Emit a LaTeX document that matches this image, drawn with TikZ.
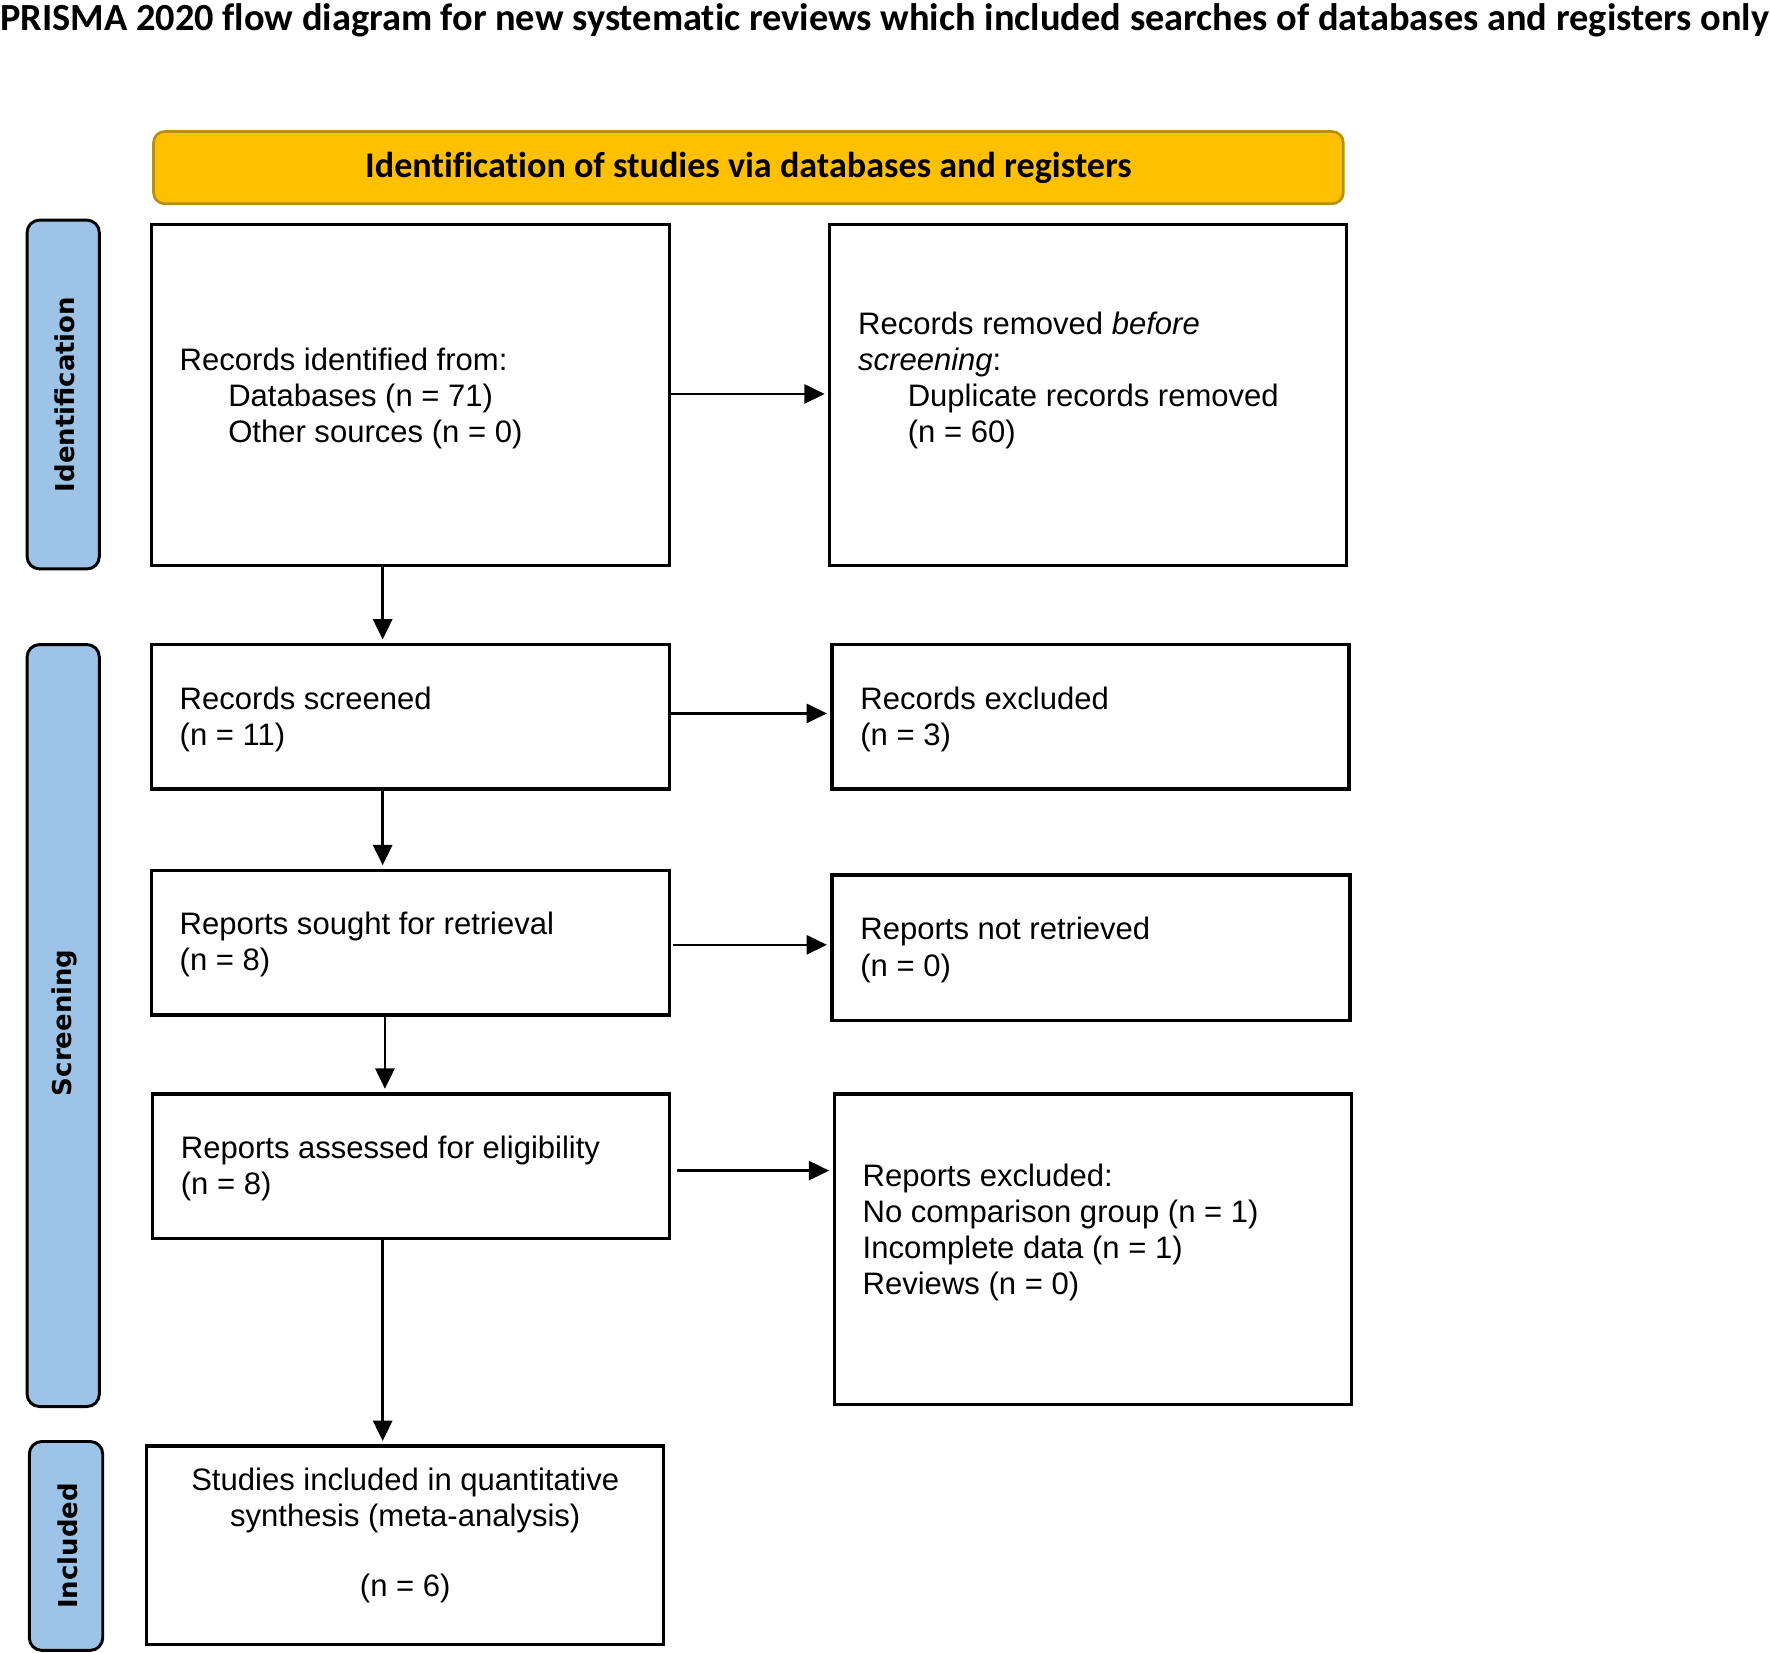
\documentclass[tikz,border=0pt]{standalone}
\usepackage{fontspec}
\setmainfont{Liberation Sans}
\newfontfamily\titlefont[Ligatures=NoCommon]{Carlito}
\newfontfamily\sidefont{DejaVu Sans}
\usetikzlibrary{arrows.meta}
\definecolor{bannerfill}{HTML}{FFC000}
\definecolor{bannerdraw}{HTML}{B8900A}
\definecolor{sidefill}{HTML}{9DC3E6}
\tikzset{
  box/.style={draw=black, line width=3pt, fill=white, inner sep=0pt},
  txt/.style={inner sep=0pt, align=left, font=\fontsize{27.5}{32}\selectfont},
  ctxt/.style={inner sep=0pt, align=center, font=\fontsize{27.5}{32}\selectfont},
  side/.style={draw=black, line width=2.6pt, fill=sidefill, rounded corners=11pt, inner sep=0pt},
  sidetxt/.style={inner sep=0pt, rotate=90, font=\sidefont\bfseries\fontsize{23}{27}\selectfont},
  arr/.style={line width=2.1pt, -{Triangle[length=18pt,width=17pt]}, shorten >=3pt},
}
\begin{document}
\begin{tikzpicture}[x=1pt,y=-1pt]
\useasboundingbox (0,0) rectangle (1568,1464);
% title
\node[inner sep=0pt, anchor=base west, font=\titlefont\bfseries\fontsize{34}{38}\selectfont] (title) at (0,27) {PRISMA 2020 flow diagram for new systematic reviews which included searches of databases and registers only};
% banner
\node[draw=bannerdraw, line width=2.4pt, fill=bannerfill, rounded corners=10pt, minimum width=1054pt, minimum height=64pt, inner sep=0pt] (banner) at (663,148.5) {};
\node[inner sep=0pt, font=\titlefont\bfseries\fontsize{32}{36}\selectfont] (bannertxt) at (663,149) {Identification of studies via databases and registers};
% side labels
\node[side, minimum width=64pt, minimum height=309pt] (sid) at (56,349.5) {};
\node[sidetxt] (sidt) at (57,349.5) {Identification};
\node[side, minimum width=64pt, minimum height=675pt] (sscr) at (56,908.5) {};
\node[sidetxt] (sscrt) at (57,906) {Screening};
\node[side, minimum width=65pt, minimum height=185pt] (sinc) at (58.5,1369.5) {};
\node[sidetxt] (sinct) at (60,1369.5) {Included};
% boxes
\node[box, minimum width=459pt, minimum height=302pt] (b1) at (363.5,350) {};
\node[box, minimum width=458pt, minimum height=302pt] (b2) at (964,350) {};
\node[box, minimum width=459pt, minimum height=128pt] (b3) at (363.5,635) {};
\node[box, minimum width=458pt, minimum height=128pt] (b4) at (966,635) {};
\node[box, minimum width=459pt, minimum height=128pt] (b5) at (363.5,835) {};
\node[box, minimum width=459pt, minimum height=129pt] (b6) at (966.5,839.5) {};
\node[box, minimum width=458pt, minimum height=128pt] (b7) at (364,1033) {};
\node[box, minimum width=458pt, minimum height=275pt] (b8) at (968,1106.5) {};
\node[box, minimum width=458pt, minimum height=176pt] (b9) at (359,1369) {};
% texts
\node[txt, anchor=west] (t1) at (159,353) {Records identified from:\\\hspace*{43pt}Databases (n = 71)\\\hspace*{43pt}Other sources (n = 0)};
\node[txt, anchor=west] (t2) at (760,337) {Records removed \textit{before}\\\textit{screening}:\\\hspace*{44pt}Duplicate records removed\\\hspace*{44pt}(n = 60)};
\node[txt, anchor=west] (t3) at (159,637.5) {Records screened\\(n = 11)};
\node[txt, anchor=west] (t4) at (762,637.5) {Records excluded\\(n = 3)};
\node[txt, anchor=west] (t5) at (159,837) {Reports sought for retrieval\\(n = 8)};
\node[txt, anchor=west] (t6) at (762,841.5) {Reports not retrieved\\(n = 0)};
\node[txt, anchor=west] (t7) at (160,1035) {Reports assessed for eligibility\\(n = 8)};
\node[txt, anchor=west] (t8) at (764,1092) {Reports excluded:\\No comparison group (n = 1)\\Incomplete data (n = 1)\\Reviews (n = 0)};
\node[ctxt] (t9) at (359,1360) {Studies included in quantitative\\synthesis (meta-analysis)\\[30pt](n = 6)};
% connector helpers
\coordinate (xa) at (339,0);
\coordinate (xb) at (341,0);
\coordinate (ya) at (0,349);
\coordinate (yb) at (0,632);
\coordinate (yc) at (0,837);
\coordinate (yd) at (0,1037);
% arrows
\draw[arr] (b1.east |- ya) -- (b2.west |- ya);
\draw[arr] (b3.east |- yb) -- (b4.west |- yb);
\draw[arr, shorten <=2pt] (b5.east |- yc) -- (b6.west |- yc);
\draw[arr, shorten <=5pt] (b7.east |- yd) -- (b8.west |- yd);
\draw[arr] (b1.south -| xa) -- (b3.north -| xa);
\draw[arr] (b3.south -| xa) -- (b5.north -| xa);
\draw[arr] (b5.south -| xb) -- (b7.north -| xb);
\draw[arr] (b7.south -| xa) -- (b9.north -| xa);
\end{tikzpicture}
\end{document}
